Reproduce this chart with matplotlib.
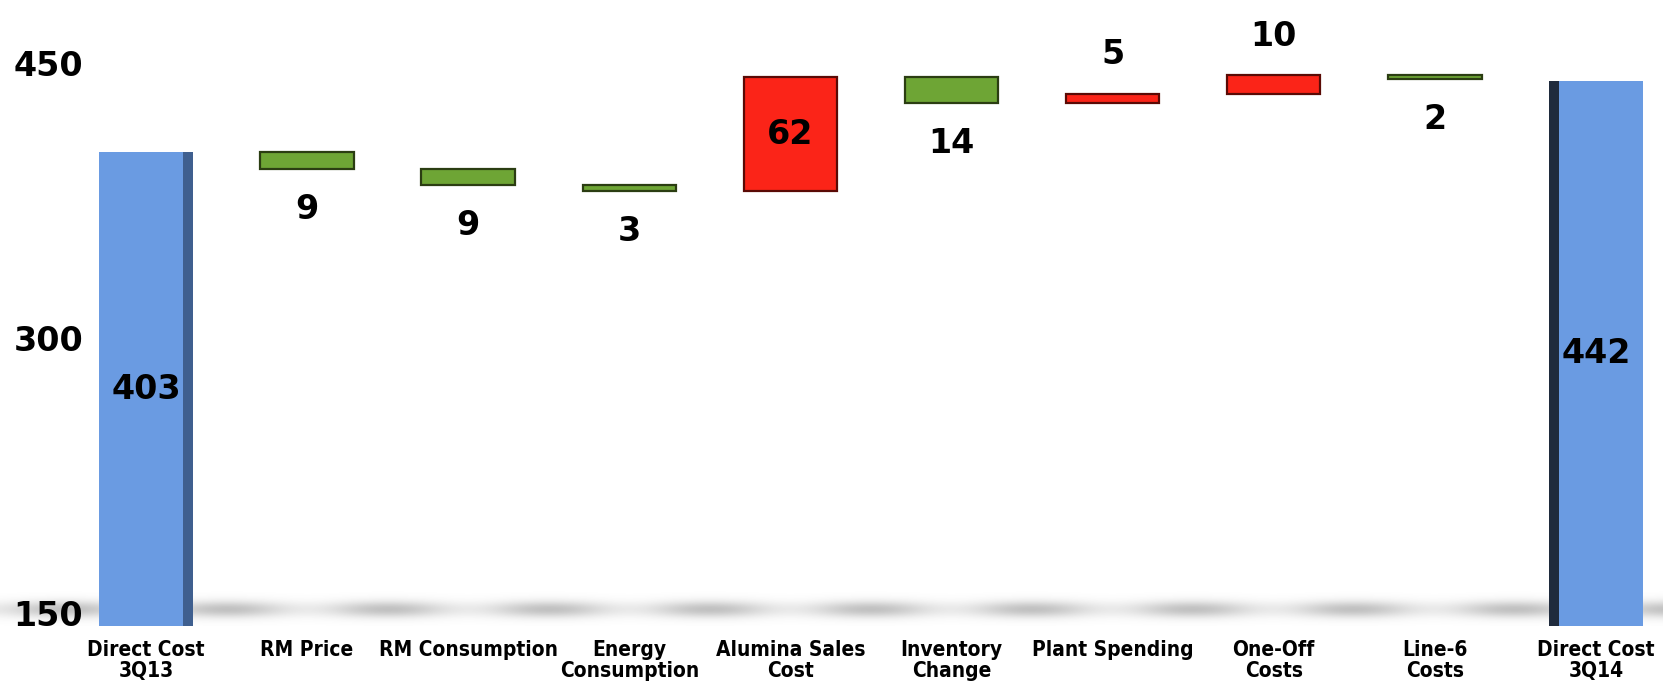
import matplotlib

matplotlib.use("Agg")
import matplotlib.pyplot as plt
import numpy as np

# ---- data -------------------------------------------------------------------
categories = ["Direct Cost\n3Q13", "RM Price", "RM Consumption", "Energy\nConsumption",
              "Alumina Sales\nCost", "Inventory\nChange", "Plant Spending", "One-Off\nCosts",
              "Line-6\nCosts", "Direct Cost\n3Q14"]
start_total = 403
end_total = 442
deltas = [-9, -9, -3, 62, -14, 5, 10, -2]
yticks = [150, 300, 450]

BLUE = "#6a9be2"
BLUE_SIDE_L = "#3f5f8f"
BLUE_SIDE_R = "#1f2b3d"
GREEN = "#6ea535"
GREEN_EDGE = "#2b3d12"
RED = "#fb2418"
RED_EDGE = "#5a0a05"
INK = "#000000"

FLOOR = 145
XL = (-0.906, 9.416)
fig = plt.figure(figsize=(16.63, 6.85), dpi=100)
ax = fig.add_axes([0, 0.086, 1, 0.914])
ax.set_xlim(*XL)
ax.set_ylim(FLOOR, 486)
ax.axis("off")

x = np.arange(len(categories))

# floor shadow: soft grey band, darker midway between bars
gx = np.linspace(XL[0], XL[1], 800)
gy = np.linspace(FLOOR, 166, 80)
vert = np.exp(-((gy - 154) / 4.5) ** 2)
horiz = 0.35 + 0.65 * np.cos(np.pi * (gx - 0.5)) ** 2
shade = np.zeros((gy.size, gx.size, 4))
shade[..., :3] = 0.42
shade[..., 3] = 0.42 * vert[:, None] * horiz[None, :]
ax.imshow(shade, extent=(XL[0], XL[1], FLOOR, 166), origin="lower", aspect="auto",
          interpolation="bilinear", zorder=0)

w = 0.58

# totals
totals = [start_total, end_total]
for xi, v, side in zip([x[0], x[-1]], totals, ["right", "left"]):
    ax.bar(xi, v - FLOOR, bottom=FLOOR, width=w, color=BLUE, zorder=2)
    sw = 0.06
    if side == "right":
        ax.bar(xi + w / 2 - sw / 2, v - FLOOR, bottom=FLOOR, width=sw, color=BLUE_SIDE_L, zorder=3)
    else:
        ax.bar(xi - w / 2 + sw / 2, v - FLOOR, bottom=FLOOR, width=sw, color=BLUE_SIDE_R, zorder=3)
    ax.text(xi, (v + FLOOR) / 2, f"{v}", ha="center", va="center", fontsize=24,
            weight="bold", color=INK, zorder=4)

# floating changes
level = start_total
for i, d in enumerate(deltas):
    xi = x[i + 1]
    lo, hi = min(level, level + d), max(level, level + d)
    up = d > 0
    ax.bar(xi, hi - lo, bottom=lo, width=w, color=RED if up else GREEN,
           edgecolor=RED_EDGE if up else GREEN_EDGE, linewidth=1.6, zorder=2)
    label = f"{abs(d)}"
    if abs(d) > 40:
        ax.text(xi, (lo + hi) / 2, label, ha="center", va="center", fontsize=24,
                weight="bold", color=INK, zorder=4)
    elif up:
        ax.annotate(label, (xi, hi), xytext=(0, 28), textcoords="offset points",
                    ha="center", va="center", fontsize=24, weight="bold", color=INK)
    else:
        ax.annotate(label, (xi, lo), xytext=(0, -29), textcoords="offset points",
                    ha="center", va="center", fontsize=24, weight="bold", color=INK)
    level += d

# y tick labels sit inside the plot on the left
for t in yticks:
    ax.text(0.008, t, f"{t}", transform=ax.get_yaxis_transform(), ha="left", va="center",
            fontsize=24, weight="bold", color=INK, zorder=5)

# category labels below the floor
for xi, c in zip(x, categories):
    ax.annotate(c, (xi, FLOOR), xytext=(0, -10), textcoords="offset points",
                ha="center", va="top", fontsize=15, weight="bold", color=INK,
                family="DejaVu Sans", fontstretch="condensed", linespacing=1.05,
                annotation_clip=False)

fig.savefig("out.png", dpi=100)
